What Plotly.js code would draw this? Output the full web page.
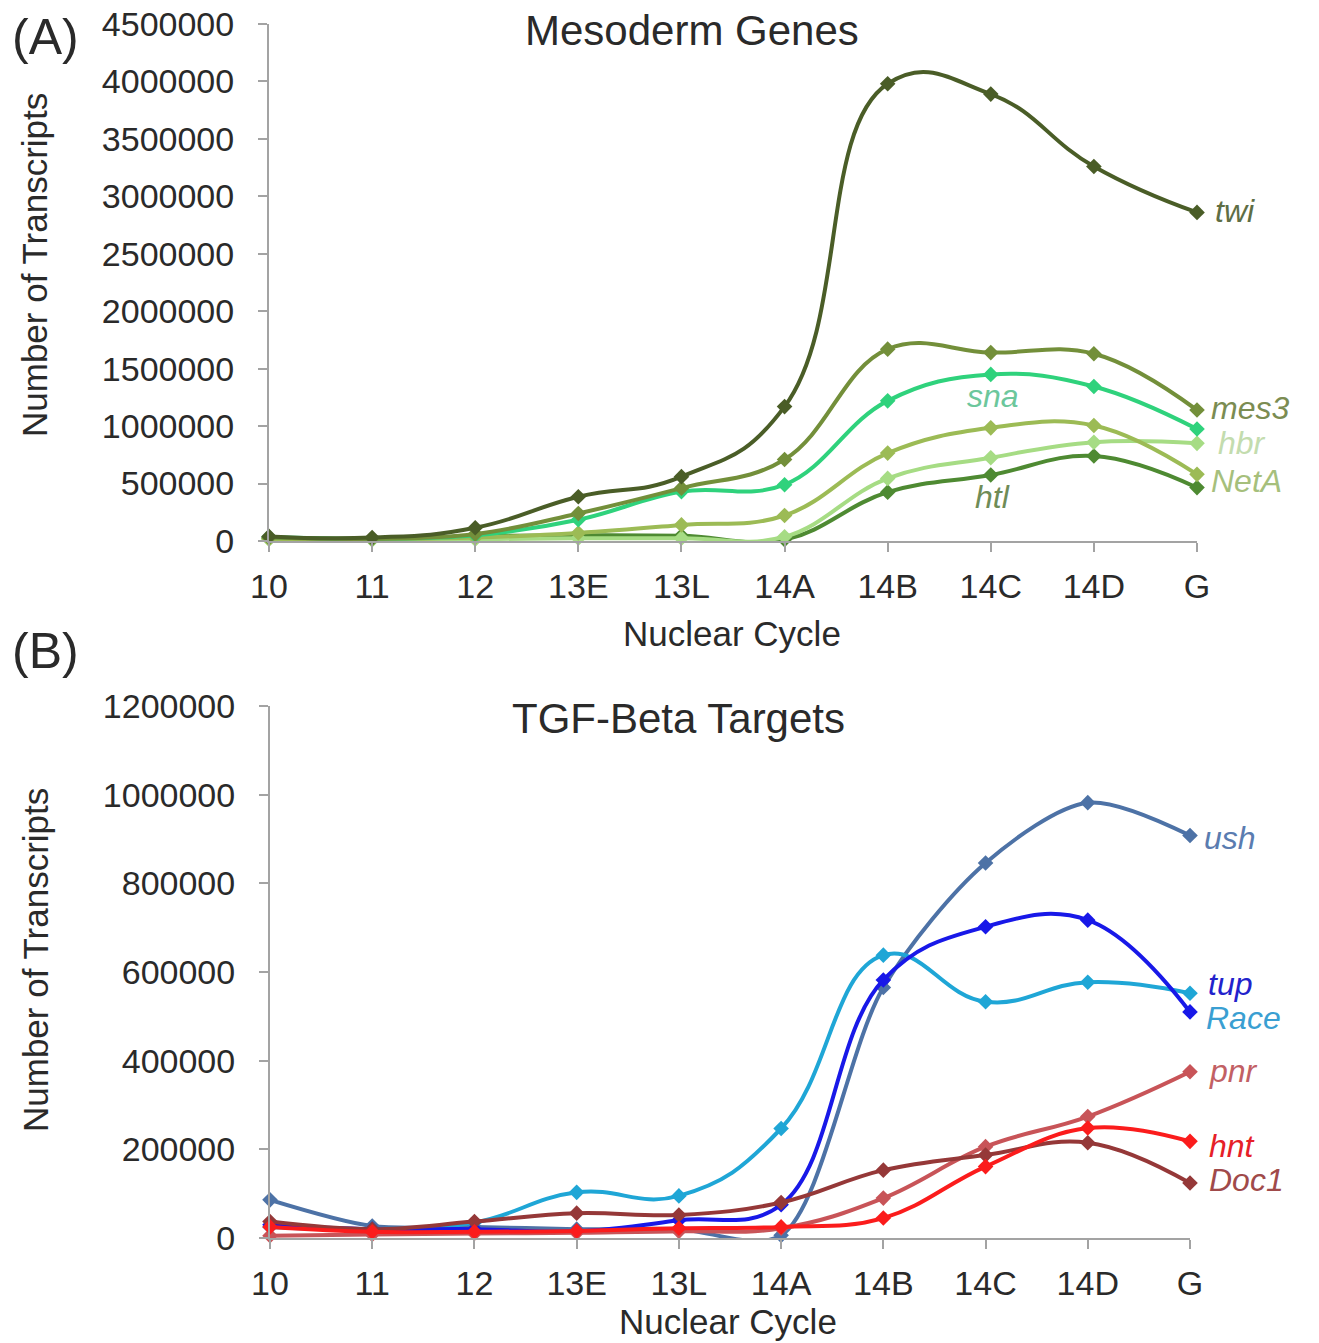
<!DOCTYPE html>
<html>
<head>
<meta charset="utf-8">
<script src="https://cdn.plot.ly/plotly-3.0.1.min.js"></script>
<style>html,body{margin:0;padding:0;background:#fff;}#chart{width:1319px;height:1343px;}</style>
</head>
<body>
<div id="chart"></div>
<script>
// Categories (nuclear cycle)
const cycles = ['10','11','12','13E','13L','14A','14B','14C','14D','G'];

// (A) Mesoderm Genes
const twi  = [40000, 30000, 115000, 385000, 560000, 1170000, 3980000, 3890000, 3260000, 2860000];
const mes3 = [30000, 20000, 60000, 240000, 460000, 710000, 1670000, 1640000, 1630000, 1140000];
const sna  = [35000, 20000, 50000, 185000, 430000, 490000, 1220000, 1450000, 1345000, 975000];
const NetA = [20000, 15000, 30000, 70000, 140000, 222000, 765000, 985000, 1005000, 580000];
const hbr  = [15000, 10000, 15000, 25000, 25000, 37000, 545000, 725000, 860000, 850000];
const htl  = [20000, 15000, 40000, 50000, 45000, 12000, 425000, 575000, 740000, 465000];

// (B) TGF-Beta Targets
const ush  = [86000, 27000, 25000, 20000, 20000, 6000, 565000, 846000, 982000, 908000];
const tup  = [30000, 20000, 20000, 15000, 40000, 75000, 582000, 702000, 717000, 510000];
const Race = [25000, 20000, 35000, 103000, 95000, 247000, 638000, 533000, 577000, 552000];
const pnr  = [5000, 8000, 10000, 12000, 15000, 22000, 90000, 206000, 274000, 375000];
const hnt  = [25000, 14000, 14000, 16000, 22000, 25000, 45000, 161000, 248000, 218000];
const Doc1 = [37000, 20000, 37000, 56000, 52000, 80000, 153000, 187000, 215000, 124000];

const W = 1319, H = 1343;
const px = x => x / W;
const py = y => 1 - y / H;
const FONT = 'Liberation Sans, Arial, sans-serif';
const TXT = '#2a2a2a';

function line(name, y, color, xa, ya, sm) {
  return {
    type: 'scatter', mode: 'lines+markers', name: name,
    x: cycles, y: y, xaxis: xa, yaxis: ya, cliponaxis: false,
    line: {color: color, width: 4, shape: 'spline', smoothing: sm || 1.15},
    marker: {symbol: 'diamond', size: 12, color: color},
    hoverinfo: 'x+y+name'
  };
}

const traces = [
  line('htl',  htl,  '#4e8a32', 'x', 'y'),
  line('hbr',  hbr,  '#a6dc84', 'x', 'y'),
  line('NetA', NetA, '#9cbb55', 'x', 'y'),
  line('sna',  sna,  '#2fd27c', 'x', 'y'),
  line('mes3', mes3, '#738f3a', 'x', 'y'),
  line('twi',  twi,  '#4a5d27', 'x', 'y', 1.3),
  line('ush',  ush,  '#4d72a6', 'x2', 'y2', 0.85),
  line('Race', Race, '#1fa6d6', 'x2', 'y2', 1.25),
  line('tup',  tup,  '#1818e8', 'x2', 'y2'),
  line('pnr',  pnr,  '#c85458', 'x2', 'y2'),
  line('Doc1', Doc1, '#953838', 'x2', 'y2'),
  line('hnt',  hnt,  '#fb1c1c', 'x2', 'y2')
];

const axisCommon = {
  showline: true, linecolor: '#a3a3a3', linewidth: 2,
  ticks: 'outside', ticklen: 9, tickwidth: 2, tickcolor: '#a3a3a3',
  showgrid: false, zeroline: false,
  tickfont: {family: FONT, size: 34, color: TXT}
};

const layout = {
  width: W, height: H,
  margin: {l: 0, r: 0, t: 0, b: 0},
  paper_bgcolor: '#fff', plot_bgcolor: 'rgba(0,0,0,0)',
  showlegend: false,
  xaxis: Object.assign({}, axisCommon, {
    domain: [px(269), px(1197)], anchor: 'y', type: 'category',
    range: [0, 9], ticklabelstandoff: 5
  }),
  yaxis: Object.assign({}, axisCommon, {
    domain: [py(541), py(24)], anchor: 'x',
    range: [0, 4500000], dtick: 500000, tickformat: 'd', ticklabelstandoff: 17
  }),
  xaxis2: Object.assign({}, axisCommon, {
    domain: [px(270), px(1190)], anchor: 'y2', type: 'category',
    range: [0, 9], ticklabelstandoff: 5
  }),
  yaxis2: Object.assign({}, axisCommon, {
    domain: [py(1238), py(706)], anchor: 'x2',
    range: [0, 1200000], dtick: 200000, tickformat: 'd', ticklabelstandoff: 17
  }),
  annotations: []
};

function ann(text, x, y, opts) {
  layout.annotations.push(Object.assign({
    text: text, x: px(x), y: py(y), xref: 'paper', yref: 'paper',
    showarrow: false, xanchor: 'center', yanchor: 'middle',
    font: {family: FONT, size: 35, color: TXT}
  }, opts || {}));
}

// panel letters, titles, axis titles
ann('(A)', 45, 37, {font: {family: FONT, size: 50, color: TXT}});
ann('(B)', 45, 651, {font: {family: FONT, size: 50, color: TXT}});
ann('Mesoderm Genes', 692, 31, {font: {family: FONT, size: 42, color: TXT}});
ann('TGF-Beta Targets', 678, 718, {font: {family: FONT, size: 42, color: TXT}});
ann('Nuclear Cycle', 732, 633);
ann('Nuclear Cycle', 728, 1321);
ann('Number of Transcripts', 35, 265, {textangle: -90});
ann('Number of Transcripts', 35, 960, {textangle: -90});

// gene labels
const gl = (t, x, y, c, anchor) => ann('<i>' + t + '</i>', x, y,
  {xanchor: anchor || 'left', font: {family: FONT, size: 32, color: c}});
gl('twi', 1213, 211, '#5e6e45');
gl('mes3', 1209, 408, '#7b8c52');
gl('hbr', 1216, 443, '#c3dcae');
gl('NetA', 1209, 481, '#a6bf7c');
gl('sna', 993, 396, '#6cc79c', 'center');
gl('htl', 992, 497, '#6f8c57', 'center');
gl('ush', 1202, 838, '#5a7cb0');
gl('tup', 1206, 984, '#2222cc');
gl('Race', 1204, 1018, '#3a9fd2');
gl('pnr', 1207, 1071, '#c26064');
gl('hnt', 1207, 1146, '#e62028');
gl('Doc1', 1207, 1180, '#a04a4a');

Plotly.newPlot('chart', traces, layout, {displayModeBar: false, staticPlot: true});
</script>
</body>
</html>
